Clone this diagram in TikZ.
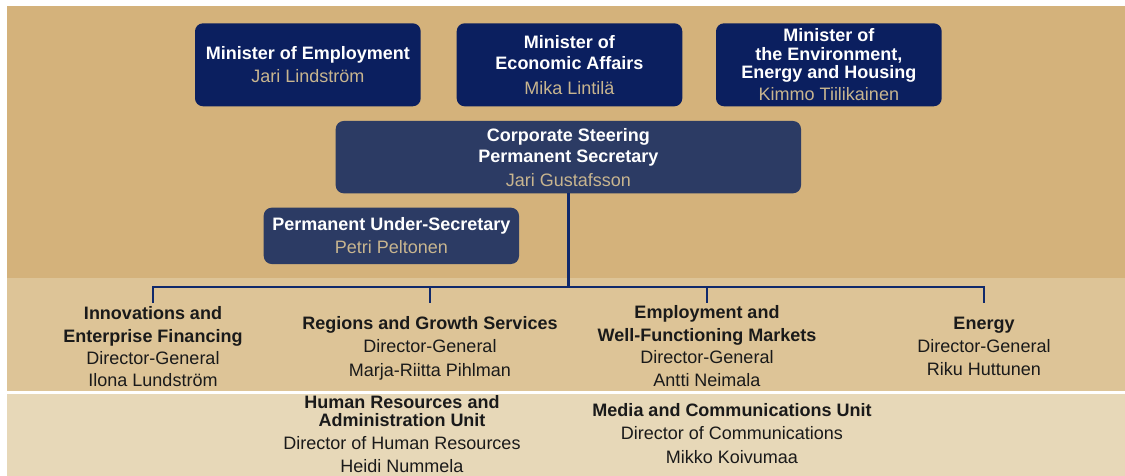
\documentclass[tikz,border=0pt]{standalone}
\usepackage{fontspec}
\setmainfont{Liberation Sans}
\definecolor{bandA}{HTML}{D4B27B}
\definecolor{bandB}{HTML}{DDC497}
\definecolor{bandC}{HTML}{E7D8B8}
\definecolor{navyA}{HTML}{0B1F5F}
\definecolor{navyB}{HTML}{2C3B64}
\definecolor{nametan}{HTML}{C8B58F}
\definecolor{linecol}{HTML}{10296B}
\definecolor{inkcol}{HTML}{1A1A1A}
\begin{document}
\begin{tikzpicture}[x=1pt,y=-1pt,
  minbox/.style={rounded corners=8pt, fill=navyA, text=white, align=center, inner sep=0pt},
  corpbox/.style={minbox, fill=navyB},
  dept/.style={anchor=base, align=center, text=inkcol, inner sep=0pt},
  conn/.style={draw=linecol, line width=2.5pt}]
\fill[white] (0,0) rectangle (1125,476);
\useasboundingbox (0,0) rectangle (1125,476);
\fill[bandA] (7,6) rectangle (1125,277.5);
\fill[bandB] (7,277.5) rectangle (1125,391);
\fill[bandC] (7,394) rectangle (1125,476);

\node[minbox, minimum width=225.7pt, minimum height=83pt, font=\fontsize{18}{23}\selectfont] (memp) at (307.85,64.8)
  {\textbf{Minister of Employment}\\\textcolor{nametan}{Jari Lindström}};
\node[minbox, minimum width=225.6pt, minimum height=83pt, font=\fontsize{18}{21.7}\selectfont] (mecon) at (569.5,64.8)
  {\textbf{Minister of}\\\textbf{Economic Affairs}\\[2.6pt]\textcolor{nametan}{Mika Lintilä}};
\node[minbox, minimum width=225.7pt, minimum height=83pt, font=\fontsize{18}{18.3}\selectfont] (menv) at (828.85,64.8)
  {\textbf{Minister of}\\\textbf{the Environment,}\\\textbf{Energy and Housing}\\[4pt]\textcolor{nametan}{Kimmo Tiilikainen}};
\node[corpbox, minimum width=465.3pt, minimum height=72.3pt, font=\fontsize{18}{21}\selectfont] (corp) at (568.35,157.15)
  {\textbf{Corporate Steering}\\\textbf{Permanent Secretary}\\[3pt]\textcolor{nametan}{Jari Gustafsson}};
\node[corpbox, minimum width=255.3pt, minimum height=56.3pt, font=\fontsize{18}{23.3}\selectfont] (pus) at (391.35,235.85)
  {\textbf{Permanent Under-Secretary}\\\textcolor{nametan}{Petri Peltonen}};

\node[dept, font=\fontsize{18}{22.3}\selectfont] (innov) at (153,386.7)
  {\textbf{Innovations and}\\\textbf{Enterprise Financing}\\Director-General\\Ilona Lundström};
\node[dept, font=\fontsize{18}{23.3}\selectfont] (regions) at (430,376)
  {\textbf{Regions and Growth Services}\\Director-General\\Marja-Riitta Pihlman};
\node[dept, font=\fontsize{18}{22.8}\selectfont] (employ) at (707,386.7)
  {\textbf{Employment and}\\\textbf{Well-Functioning Markets}\\Director-General\\Antti Neimala};
\node[dept, font=\fontsize{18}{23}\selectfont] (energy) at (984,375)
  {\textbf{Energy}\\Director-General\\Riku Huttunen};
\node[dept, font=\fontsize{18}{18.7}\selectfont] (hr) at (402,472.7)
  {\textbf{Human Resources and}\\\textbf{Administration Unit}\\[3.6pt]Director of Human Resources\\[5pt]Heidi Nummela};
\node[dept, font=\fontsize{18}{22.3}\selectfont] (media) at (732,463)
  {\textbf{Media and Communications Unit}\\Director of Communications\\[1.7pt]Mikko Koivumaa};

\coordinate (j) at (568.35,287);
\coordinate (d1) at (153,303);
\coordinate (d2) at (430,303);
\coordinate (d3) at (707,303);
\coordinate (d4) at (984,303);
\draw[conn] (corp.south) -- (corp.south |- j);
\draw[conn, line join=miter] (d1) -- (d1 |- j) -- (d4 |- j) -- (d4);
\draw[conn] (d2 |- j) -- (d2);
\draw[conn] (d3 |- j) -- (d3);
\end{tikzpicture}
\end{document}
